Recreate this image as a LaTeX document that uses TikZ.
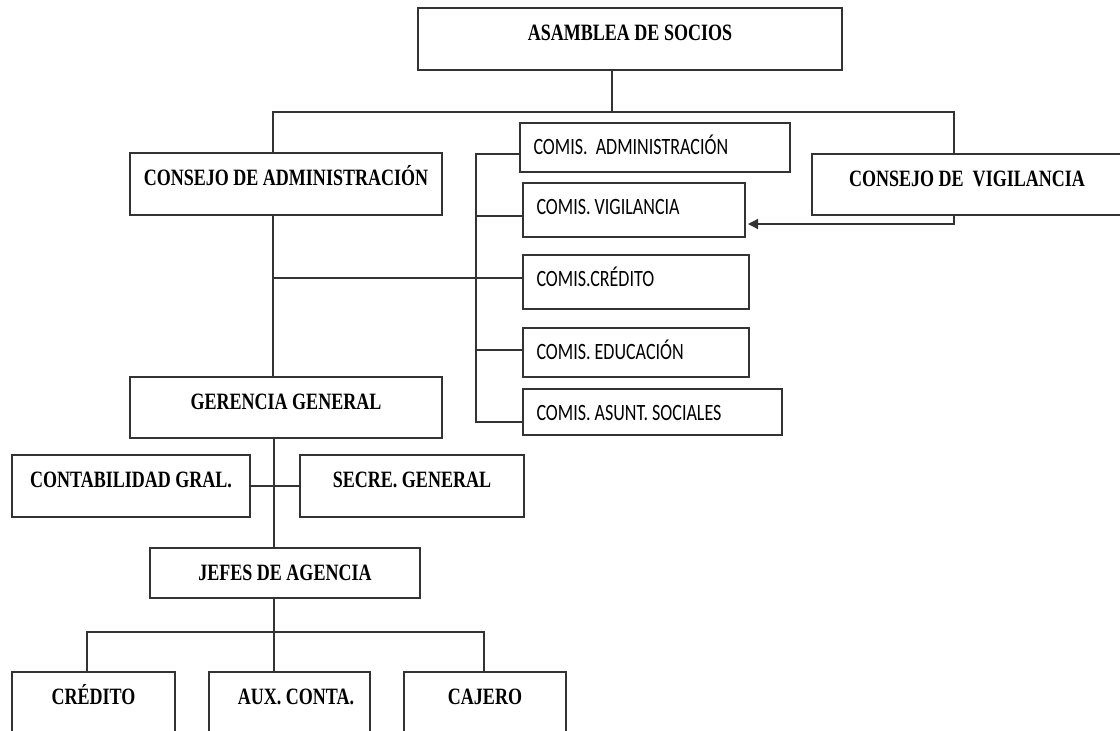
\documentclass[tikz,border=0pt]{standalone}
\usepackage{fontspec}
\usetikzlibrary{arrows.meta}
% tall, narrow faces for the unit names
\newfontfamily\orgserif{Liberation Serif}[FakeStretch=0.77]
\newfontfamily\orgsans{Carlito}[FakeStretch=0.77]

\tikzset{
  conn/.style={draw=black!80, line width=1.4pt},
  unit/.style={draw=black!80, line width=1.4pt, fill=white, anchor=north west,
    inner xsep=0pt, inner ysep=0pt, outer sep=0pt, text height=32pt,
    font=\orgserif\bfseries\fontsize{23.4}{26}\selectfont},
  comis/.style={draw=black!80, line width=1.4pt, fill=white, anchor=north west,
    inner xsep=13.5pt, inner ysep=0pt, outer sep=0pt, text height=31pt,
    align=flush left, font=\orgsans\fontsize{23.4}{26}\selectfont},
}

\begin{document}
\begin{tikzpicture}[x=1pt,y=-1pt]
\useasboundingbox (0,0) rectangle (1120,731);
\clip (0,0) rectangle (1120,731);

% governing bodies
\node[unit, minimum width=424pt, text depth=30pt] (asamblea) at (418,8) {ASAMBLEA DE SOCIOS};
\node[unit, minimum width=312pt, text depth=30pt] (cadmin) at (130,153) {CONSEJO DE ADMINISTRACIÓN};
\node[unit, minimum width=310pt, text depth=29pt] (cvig) at (812,154) {CONSEJO DE~ VIGILANCIA};

% commissions
\node[comis, text width=243pt, text depth=18pt] (comadm) at (520,123) {COMIS.\ \ ADMINISTRACIÓN};
\node[comis, text width=195pt, text depth=23pt] (comvig) at (523,183) {COMIS. VIGILANCIA};
\node[comis, text width=199pt, text depth=23pt] (comcred) at (523,255) {COMIS.CRÉDITO};
\node[comis, text width=199pt, text depth=18pt] (comedu) at (523,328) {COMIS. EDUCACIÓN};
\node[comis, text width=232pt, text depth=15pt] (comasu) at (523,389) {COMIS. ASUNT. SOCIALES};

% management
\node[unit, minimum width=312pt, text depth=29pt] (geren) at (130,377) {GERENCIA GENERAL};
\node[unit, minimum width=238pt, text depth=30pt] (contab) at (12,455) {CONTABILIDAD GRAL.};
\node[unit, minimum width=224pt, text depth=30pt] (secre) at (300,455) {SECRE. GENERAL};
\node[unit, minimum width=270pt, text depth=18pt] (jefes) at (150,548) {JEFES DE AGENCIA};

% agency staff
\node[unit, minimum width=163pt, text depth=41pt] (credito) at (12,672) {CRÉDITO};
\node[unit, minimum width=161pt, text depth=41pt] (aux) at (209,672) {\hspace*{13pt}AUX. CONTA.};
\node[unit, minimum width=162pt, text depth=41pt] (cajero) at (404,672) {CAJERO};

% junction points
\coordinate (j-top) at (612,112);
\coordinate (j-left) at (273,112);
\coordinate (j-right) at (954,112);
\coordinate (j-arrow) at (954,224);
\coordinate (c-adm) at (476,154);
\coordinate (c-vig) at (476,216);
\coordinate (c-cred) at (273,278);
\coordinate (c-edu) at (476,350);
\coordinate (c-asu) at (476,422);
\coordinate (j-ger) at (274,438);
\coordinate (j-jef) at (274,632);
\coordinate (b-left) at (87,632);
\coordinate (b-right) at (484,632);

% top bus
\draw[conn] (asamblea.south -| j-top) -- (j-top);
\draw[conn] (cadmin.north -| j-left) -- (j-left) -- (j-right) -- (cvig.north -| j-right);

% commission bracket
\draw[conn] (c-adm -| comadm.west) -- (c-adm) -- (c-asu) -- (c-asu -| comasu.west);
\draw[conn] (c-vig) -- (c-vig -| comvig.west);
\draw[conn] (c-cred) -- (c-cred -| comcred.west);
\draw[conn] (c-edu) -- (c-edu -| comedu.west);

% supervisory link
\draw[conn, -{Triangle[length=10pt,width=10pt]}, shorten >=3pt]
  (cvig.south -| j-arrow) -- (j-arrow) -- (j-arrow -| comvig.east);

% management chain
\draw[conn] (cadmin.south -| j-left) -- (geren.north -| j-left);
\draw[conn] (geren.south -| j-ger) -- (jefes.north -| j-ger);
\draw[conn] (contab.east) -- (secre.west);

% agency staff
\draw[conn] (jefes.south -| j-jef) -- (j-jef) -- (aux.north -| j-jef);
\draw[conn] (credito.north -| b-left) -- (b-left) -- (b-right) -- (cajero.north -| b-right);
\end{tikzpicture}
\end{document}
